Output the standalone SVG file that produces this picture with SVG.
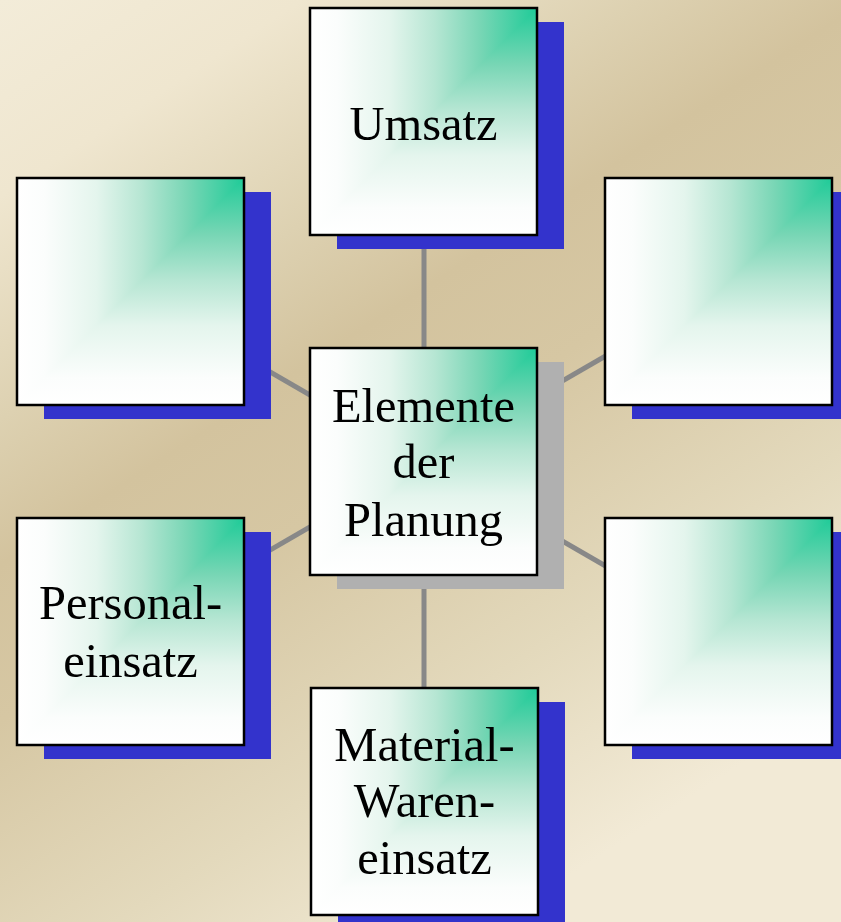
<svg xmlns="http://www.w3.org/2000/svg" xmlns:xlink="http://www.w3.org/1999/xlink" width="841" height="922" viewBox="0 0 841 922">
  <defs>
    <linearGradient id="bg" x1="0" y1="0" x2="600" y2="922" gradientUnits="userSpaceOnUse">
      <stop offset="0" stop-color="#f3ecd9"/>
      <stop offset="0.15" stop-color="#efe6cf"/>
      <stop offset="0.32" stop-color="#ddd1b1"/>
      <stop offset="0.43" stop-color="#d3c39e"/>
      <stop offset="0.55" stop-color="#d6c7a3"/>
      <stop offset="0.76" stop-color="#e3d9bc"/>
      <stop offset="0.95" stop-color="#f2ead6"/>
    </linearGradient>
    <linearGradient id="gh" x1="0" y1="0" x2="1" y2="0">
      <stop offset="0" stop-color="#ffffff"/>
      <stop offset="0.12" stop-color="#fbfdfc"/>
      <stop offset="0.35" stop-color="#e4f5ed"/>
      <stop offset="0.55" stop-color="#b6e6d3"/>
      <stop offset="0.75" stop-color="#78d6b5"/>
      <stop offset="1" stop-color="#1fcb98"/>
    </linearGradient>
    <linearGradient id="gv" x1="0" y1="1" x2="0" y2="0">
      <stop offset="0" stop-color="#ffffff"/>
      <stop offset="0.12" stop-color="#fbfdfc"/>
      <stop offset="0.35" stop-color="#e4f5ed"/>
      <stop offset="0.55" stop-color="#b6e6d3"/>
      <stop offset="0.75" stop-color="#78d6b5"/>
      <stop offset="1" stop-color="#1fcb98"/>
    </linearGradient>
    <g id="face">
      <rect x="0" y="0" width="227" height="227" fill="url(#gh)"/>
      <polygon points="227,0 227,227 0,227" fill="url(#gv)"/>
      <rect x="0" y="0" width="227" height="227" fill="none" stroke="#000" stroke-width="2.5"/>
    </g>
    <style>
      .shadow { fill: #3333cc; }
      .shadow-gray { fill: #b0b0b0; }
      .conn { stroke: #888888; stroke-width: 5; fill: none; }
      .lbl { font-family: "Liberation Serif", "Times New Roman", serif; font-size: 48.5px; fill: #000; text-anchor: middle; }
    </style>
  </defs>

  <rect x="0" y="0" width="841" height="922" fill="url(#bg)"/>

  <g id="connectors">
    <line class="conn" x1="424" y1="461" x2="424" y2="121"/>
    <line class="conn" x1="424" y1="461" x2="424" y2="801"/>
    <line class="conn" x1="424" y1="461" x2="130" y2="291"/>
    <line class="conn" x1="424" y1="461" x2="130" y2="631"/>
    <line class="conn" x1="424" y1="461" x2="718" y2="291"/>
    <line class="conn" x1="424" y1="461" x2="718" y2="631"/>
  </g>

  <g id="node-umsatz" transform="translate(310,8)">
    <rect class="shadow" x="27" y="14" width="227" height="227"/>
    <use xlink:href="#face"/>
    <text class="lbl" x="113.5" y="132">Umsatz</text>
  </g>

  <g id="node-left-top" transform="translate(17,178)">
    <rect class="shadow" x="27" y="14" width="227" height="227"/>
    <use xlink:href="#face"/>
  </g>

  <g id="node-right-top" transform="translate(605,178)">
    <rect class="shadow" x="27" y="14" width="227" height="227"/>
    <use xlink:href="#face"/>
  </g>

  <g id="node-center" transform="translate(310,348)">
    <rect class="shadow-gray" x="27" y="14" width="227" height="227"/>
    <use xlink:href="#face"/>
    <text class="lbl" x="113.5" y="74">Elemente</text>
    <text class="lbl" x="113.5" y="130">der</text>
    <text class="lbl" x="113.5" y="188">Planung</text>
  </g>

  <g id="node-personal" transform="translate(17,518)">
    <rect class="shadow" x="27" y="14" width="227" height="227"/>
    <use xlink:href="#face"/>
    <text class="lbl" x="113.5" y="101">Personal-</text>
    <text class="lbl" x="113.5" y="159">einsatz</text>
  </g>

  <g id="node-right-bottom" transform="translate(605,518)">
    <rect class="shadow" x="27" y="14" width="227" height="227"/>
    <use xlink:href="#face"/>
  </g>

  <g id="node-material" transform="translate(311,688)">
    <rect class="shadow" x="27" y="14" width="227" height="227"/>
    <use xlink:href="#face"/>
    <text class="lbl" x="113.5" y="73">Material-</text>
    <text class="lbl" x="113.5" y="129">Waren-</text>
    <text class="lbl" x="113.5" y="186">einsatz</text>
  </g>
</svg>
